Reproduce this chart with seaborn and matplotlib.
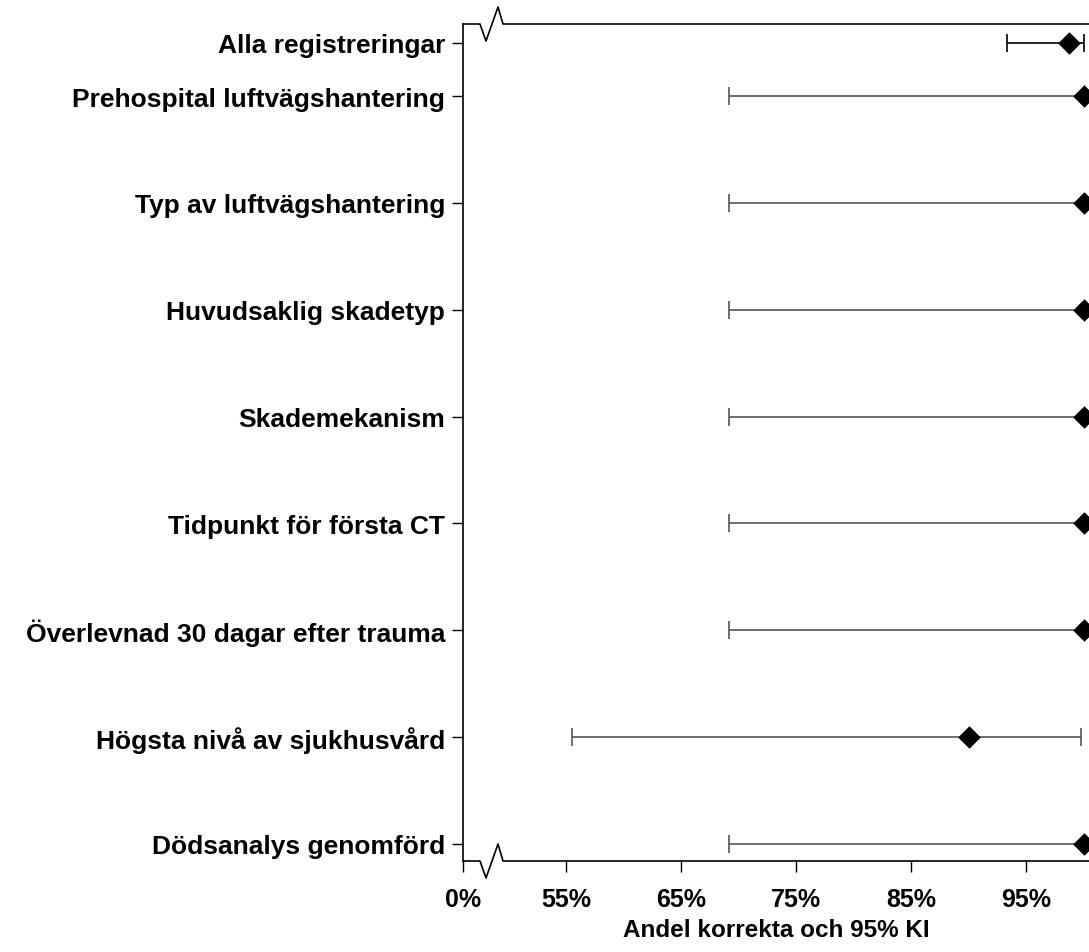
import numpy as np
import pandas as pd
import seaborn as sns
import matplotlib.pyplot as plt
from matplotlib.lines import Line2D

sns.set_style("white")
plt.rcParams['font.family'] = ['Liberation Sans', 'DejaVu Sans']
plt.rcParams['font.weight'] = 'bold'
plt.rcParams['text.color'] = 'black'
plt.rcParams['xtick.color'] = 'black'
plt.rcParams['ytick.color'] = 'black'
plt.rcParams['axes.labelcolor'] = 'black'

labels = [
    "Alla registreringar",
    "Prehospital luftvägshantering",
    "Typ av luftvägshantering",
    "Huvudsaklig skadetyp",
    "Skademekanism",
    "Tidpunkt för första CT",
    "Överlevnad 30 dagar efter trauma",
    "Högsta nivå av sjukhusvård",
    "Dödsanalys genomförd",
]
andel = [98.7, 100, 100, 100, 100, 100, 100, 90.0, 100]
ki_lag = [93.3, 69.2, 69.2, 69.2, 69.2, 69.2, 69.2, 55.5, 69.2]
ki_hog = [100, 100, 100, 100, 100, 100, 100, 99.8, 100]
xticks = [0, 55, 65, 75, 85, 95]

df = pd.DataFrame({"label": labels, "andel": andel, "lag": ki_lag, "hog": ki_hog})
# first row sits half a step above the rest
df["y"] = [0.5] + list(range(1, len(labels)))

# broken axis: 0-55 squeezed into a short stretch
X0 = 46.04
def fwd(x):
    x = np.asarray(x, dtype=float)
    return np.where(x >= 55, x, X0 + x * (55 - X0) / 55)
def inv(x):
    x = np.asarray(x, dtype=float)
    return np.where(x >= 55, x, (x - X0) * 55 / (55 - X0))

fig = plt.figure(figsize=(10.89, 9.53), dpi=100)
ax = fig.add_axes([463 / 1089, 91 / 953, 626 / 1089, 837 / 953])
ax.set_xscale('function', functions=(fwd, inv))

for i, r in df.iterrows():
    col = 'black' if i == 0 else '#555555'
    ax.errorbar(r["andel"], r["y"], xerr=[[r["andel"] - r["lag"]], [r["hog"] - r["andel"]]],
                fmt='none', ecolor=col, elinewidth=1.2, capsize=6.5, capthick=1.2, zorder=2)

sns.scatterplot(data=df, x="andel", y="y", marker='D', s=120, color='black',
                edgecolor='black', linewidth=0.5, ax=ax, zorder=3, clip_on=False)

ax.set_xlim(0, 100.47)
ax.set_ylim(8.16, 0.326)
ax.set_xticks(xticks)
ax.set_xticklabels([f"{t}%" for t in xticks], fontsize=18, fontweight='bold')
ax.set_yticks(df["y"])
ax.set_yticklabels(labels, fontsize=19, fontweight='bold')
ax.tick_params(axis='both', direction='out', length=8, width=1, color='black',
               left=True, bottom=True)
ax.tick_params(axis='y', pad=5)
ax.tick_params(axis='x', pad=11)
ax.set_xlabel("Andel korrekta och 95% KI", fontsize=17.5, fontweight='bold', labelpad=5)
ax.set_ylabel("")

for s in ['top', 'bottom', 'right']:
    ax.spines[s].set_visible(False)
ax.spines['left'].set_color('black')
ax.spines['left'].set_linewidth(1.2)

# top and bottom frame lines with zigzag break marks (pixel offsets -> axes fractions)
W, H = 626.0, 837.0
zx = [0, 17, 23, 35, 40, 626]
zy = [0, 0, -17, 17, 0, 0]
for base in (0.0, 1.0):
    xs = [v / W for v in zx]
    ys = [base + v / H for v in zy]
    ax.add_line(Line2D(xs, ys, transform=ax.transAxes, color='black', lw=1.2,
                       clip_on=False, zorder=4))

fig.savefig("out.png", dpi=100)
